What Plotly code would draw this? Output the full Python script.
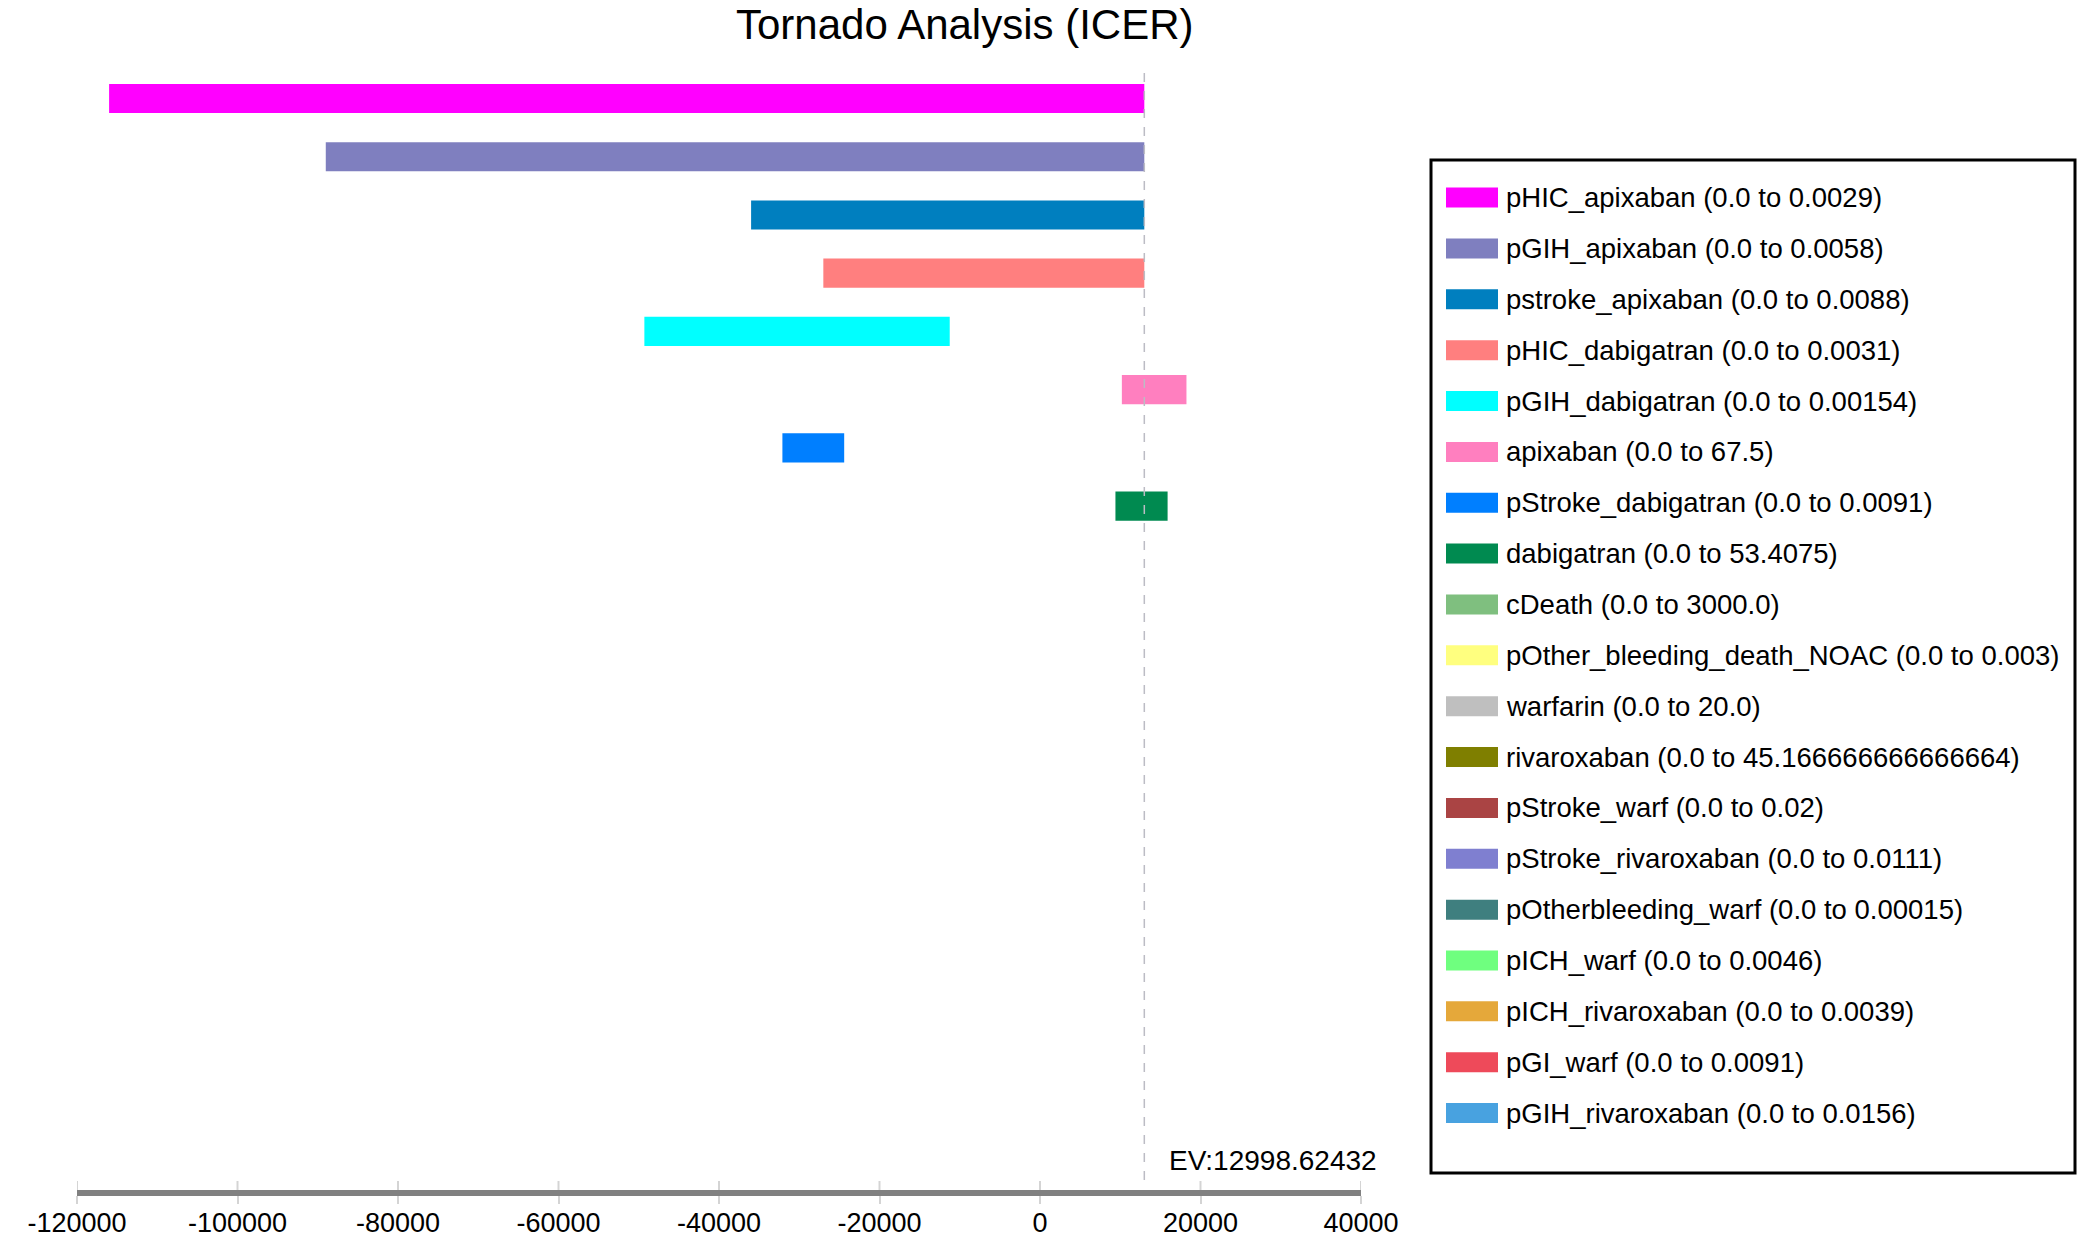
import plotly.graph_objects as go

W, H = 2083, 1240
FONT = "Liberation Sans, Arial, Helvetica, sans-serif"

EV = 12998.62432

params = ['pHIC_apixaban', 'pGIH_apixaban', 'pstroke_apixaban', 'pHIC_dabigatran',
          'pGIH_dabigatran', 'apixaban', 'pStroke_dabigatran', 'dabigatran', 'cDeath',
          'pOther_bleeding_death_NOAC', 'warfarin', 'rivaroxaban', 'pStroke_warf',
          'pStroke_rivaroxaban', 'pOtherbleeding_warf', 'pICH_warf', 'pICH_rivaroxaban',
          'pGI_warf', 'pGIH_rivaroxaban']
range_lo = ['0.0'] * 19
range_hi = ['0.0029', '0.0058', '0.0088', '0.0031', '0.00154', '67.5', '0.0091', '53.4075',
            '3000.0', '0.003', '20.0', '45.166666666666664', '0.02', '0.0111', '0.00015',
            '0.0046', '0.0039', '0.0091', '0.0156']

# ICER at the low / high end of each parameter's range
low_vals = [-116000, -89000, -36000, -27000, -49300, 10200, -32100, 9400,
            EV, EV, EV, EV, EV, EV, EV, EV, EV, EV, EV]
high_vals = [EV, EV, EV, EV, -11250, 18250, -24400, 15900,
             EV, EV, EV, EV, EV, EV, EV, EV, EV, EV, EV]

colors = ['#ff00ff', '#7f7fbf', '#007fbf', '#ff7f7f', '#00ffff', '#ff7fbf', '#007fff',
          '#008a50', '#7fbf7f', '#ffff7f', '#bfbfbf', '#7f7f00', '#aa4444', '#7f7fd0',
          '#3f7f7f', '#6fff7f', '#e5a83a', '#ee4a5a', '#48a2e0']

tick_vals = [-120000, -100000, -80000, -60000, -40000, -20000, 0, 20000, 40000]
tick_text = ['-120000', '-100000', '-80000', '-60000', '-40000', '-20000', '0', '20000', '40000']


def px(x):
    return x / W


def py(y):
    return 1 - y / H


fig = go.Figure()
fig.add_trace(go.Bar(
    y=params,
    x=[h - l for l, h in zip(low_vals, high_vals)],
    base=low_vals,
    orientation='h',
    width=0.5,
    marker=dict(color=colors, line=dict(width=0)),
    showlegend=False,
))

shapes = []
annotations = []

# expected value line
shapes.append(dict(type='line', xref='x', yref='paper', x0=EV, x1=EV,
                   y0=py(1180), y1=py(72), line=dict(color='#bcbcc4', width=1.5, dash='dash')))
annotations.append(dict(text='EV:' + str(EV), xref='paper', yref='paper',
                        x=px(1273), y=py(1160), xanchor='center', yanchor='middle',
                        showarrow=False, font=dict(size=28, color='black')))

# faint tick marks above the axis line
for t in tick_vals:
    shapes.append(dict(type='line', xref='x', yref='paper', x0=t, x1=t,
                       y0=py(1190), y1=py(1181), line=dict(color='#d4d4d4', width=2)))

# title
annotations.append(dict(text='Tornado Analysis (ICER)', xref='paper', yref='paper',
                        x=px(965), y=py(24), xanchor='center', yanchor='middle',
                        showarrow=False, font=dict(size=42, color='black')))

# legend box drawn by hand (wide swatches)
shapes.append(dict(type='rect', xref='paper', yref='paper',
                   x0=px(1431), x1=px(2075), y0=py(1173), y1=py(160),
                   line=dict(color='black', width=3), fillcolor='white', layer='below'))
row0, row_gap = 197.6, 50.86
for i, name in enumerate(params):
    yc = row0 + i * row_gap
    shapes.append(dict(type='rect', xref='paper', yref='paper',
                       x0=px(1446), x1=px(1498), y0=py(yc + 10), y1=py(yc - 10),
                       line=dict(width=0), fillcolor=colors[i]))
    annotations.append(dict(text=f'{name} ({range_lo[i]} to {range_hi[i]})',
                            xref='paper', yref='paper', x=px(1504), y=py(yc),
                            xanchor='left', yanchor='middle', showarrow=False,
                            font=dict(size=27.5, color='black')))

fig.update_layout(
    template='none',
    width=W, height=H,
    margin=dict(l=0, r=0, t=0, b=0),
    paper_bgcolor='white', plot_bgcolor='white',
    font=dict(family=FONT, color='black'),
    shapes=shapes,
    annotations=annotations,
    xaxis=dict(domain=[px(77), px(1361)], range=[-120000, 40000], autorange=False,
               tickvals=tick_vals, ticktext=tick_text, tickfont=dict(size=27),
               showline=True, linecolor='#808080', linewidth=6,
               ticks='outside', ticklen=8, tickwidth=2, tickcolor='#d4d4d4',
               ticklabelstandoff=-4,
               showgrid=False, zeroline=False, automargin=False),
    yaxis=dict(domain=[py(1190), py(60)], type='category', categoryarray=params,
               range=[18.74, -0.66], autorange=False, showticklabels=False,
               showgrid=False, zeroline=False, showline=False, ticks='', automargin=False),
)

fig.write_html("out.html", config={'displayModeBar': False},
               post_script="document.body.style.margin='0';document.body.style.overflow='hidden';")
